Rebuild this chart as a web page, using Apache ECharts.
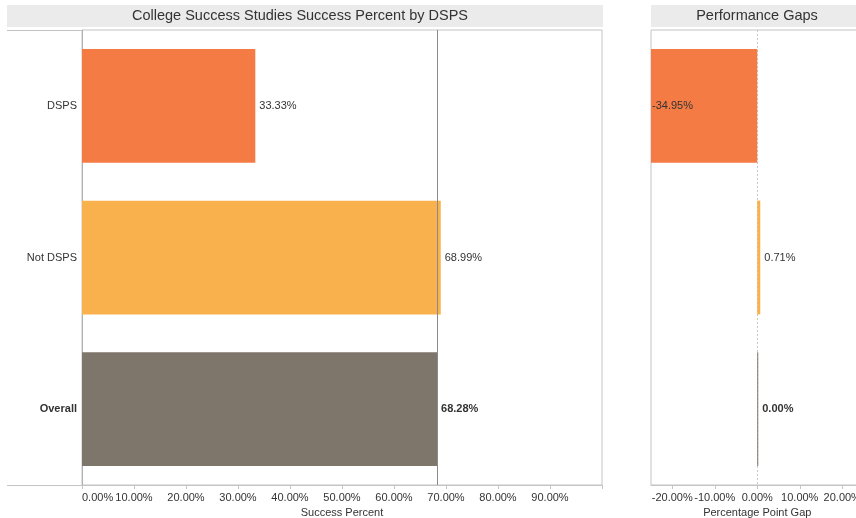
<!DOCTYPE html>
<html>
<head>
<meta charset="utf-8">
<title>College Success Studies Success Percent by DSPS</title>
<script src="https://cdn.jsdelivr.net/npm/echarts@6/dist/echarts.min.js"></script>
<style>
  html, body { margin: 0; padding: 0; background: #ffffff; }
  #chart { width: 856px; height: 518px; }
</style>
</head>
<body>
<div id="chart"></div>
<script>
// Groups shown on the vertical axis
const categories = ['DSPS', 'Not DSPS', 'Overall'];
// Success percent for each group
const successPercent = [33.33, 68.99, 68.28];
// Gap in percentage points versus the overall rate
const gapPoints = [-34.95, 0.71, 0.00];
// Tick values for both value axes
const successTicks = [0, 10, 20, 30, 40, 50, 60, 70, 80, 90, 100];
const gapTicks = [-20, -10, 0, 10, 20];
// Bar colours per group
const barColors = ['#F47B43', '#F9B14D', '#7E756B'];

const FONT = "'Liberation Sans', Arial, sans-serif";
const TEXT = '#333333';
const BORDER = '#c4c4c4';
const pct = v => v.toFixed(2) + '%';

const chart = echarts.init(document.getElementById('chart'), null, { renderer: 'canvas' });

function barItems(values) {
  return values.map((v, i) => ({
    value: v,
    itemStyle: { color: barColors[i] },
    label: categories[i] === 'Overall' ? { fontWeight: 'bold' } : {}
  }));
}

const gapItems = barItems(gapPoints);
// the large negative bar runs past the panel edge, so its label sits inside at the left
gapItems[0].label = { position: 'insideLeft', distance: 1 };

const option = {
  animation: false,
  textStyle: { fontFamily: FONT },
  graphic: [
    { type: 'rect', shape: { x: 7, y: 5, width: 596, height: 22 }, style: { fill: '#ebebeb' }, silent: true },
    { type: 'text', x: 300, y: 16, style: { text: 'College Success Studies Success Percent by DSPS', fill: TEXT, font: '14.5px ' + FONT, align: 'center', verticalAlign: 'middle' } },
    { type: 'rect', shape: { x: 651, y: 5, width: 220, height: 22 }, style: { fill: '#ebebeb' }, silent: true },
    { type: 'text', x: 757, y: 16, style: { text: 'Performance Gaps', fill: TEXT, font: '14.5px ' + FONT, align: 'center', verticalAlign: 'middle' } },
    { type: 'line', shape: { x1: 7, y1: 30.5, x2: 82, y2: 30.5 }, style: { stroke: BORDER, lineWidth: 1 } },
    { type: 'line', shape: { x1: 7, y1: 485.5, x2: 82, y2: 485.5 }, style: { stroke: BORDER, lineWidth: 1 } }
  ],
  grid: [
    { left: 82, top: 30, width: 520, height: 455, show: true, borderColor: BORDER, borderWidth: 1, backgroundColor: 'transparent', outerBoundsMode: 'none', containLabel: false },
    { left: 651, top: 30, width: 212.5, height: 455, show: true, borderColor: BORDER, borderWidth: 1, backgroundColor: 'transparent', outerBoundsMode: 'none', containLabel: false }
  ],
  xAxis: [
    {
      gridIndex: 0, type: 'value', min: 0, max: 100,
      name: 'Success Percent', nameLocation: 'middle', nameGap: 21,
      nameTextStyle: { fontSize: 11, color: TEXT, fontFamily: FONT },
      axisLine: { show: true, lineStyle: { color: BORDER } },
      axisTick: { show: true, length: 4, lineStyle: { color: BORDER }, customValues: successTicks },
      axisLabel: {
        customValues: successTicks,
        fontSize: 11, color: TEXT, fontFamily: FONT, margin: 7,
        alignMinLabel: 'left', hideOverlap: false,
        formatter: v => (v >= 100 ? '' : pct(v))
      },
      splitLine: { show: false }
    },
    {
      gridIndex: 1, type: 'value', min: -25, max: 25,
      name: 'Percentage Point Gap', nameLocation: 'middle', nameGap: 21,
      nameTextStyle: { fontSize: 11, color: TEXT, fontFamily: FONT },
      axisLine: { show: true, lineStyle: { color: BORDER } },
      axisTick: { show: true, length: 4, lineStyle: { color: BORDER }, customValues: gapTicks },
      axisLabel: {
        customValues: gapTicks,
        fontSize: 11, color: TEXT, fontFamily: FONT, margin: 7, hideOverlap: false,
        formatter: v => pct(v)
      },
      splitLine: { show: false }
    }
  ],
  yAxis: [
    {
      gridIndex: 0, type: 'category', data: categories, inverse: true,
      axisLine: { show: true, lineStyle: { color: '#b0b0b0' } },
      axisTick: { show: false },
      axisLabel: {
        fontSize: 11, color: TEXT, fontFamily: FONT, margin: 5,
        formatter: v => (v === 'Overall' ? '{b|' + v + '}' : v),
        rich: { b: { fontWeight: 'bold', fontSize: 11, color: TEXT, fontFamily: FONT } }
      }
    },
    {
      gridIndex: 1, type: 'category', data: categories, inverse: true,
      axisLine: { show: false }, axisTick: { show: false }, axisLabel: { show: false }
    }
  ],
  series: [
    {
      type: 'bar', xAxisIndex: 0, yAxisIndex: 0,
      data: barItems(successPercent),
      barCategoryGap: '25%',
      label: { show: true, position: 'right', distance: 4, fontSize: 11, color: TEXT, fontFamily: FONT, formatter: p => pct(p.value) },
      markLine: {
        silent: true, symbol: ['none', 'none'],
        label: { show: false },
        lineStyle: { color: '#8a8a8a', width: 1, type: 'solid' },
        data: [{ xAxis: successPercent[categories.indexOf('Overall')] }]
      }
    },
    {
      type: 'bar', xAxisIndex: 1, yAxisIndex: 1,
      data: gapItems,
      barCategoryGap: '25%',
      barMinHeight: 1,
      clip: true,
      z: 3,
      label: { show: true, position: 'right', distance: 4, fontSize: 11, color: TEXT, fontFamily: FONT, formatter: p => pct(p.value) },
      markLine: {
        silent: true, symbol: ['none', 'none'],
        z: 1,
        label: { show: false },
        lineStyle: { color: '#c8c8c8', width: 1, type: [2, 2] },
        data: [{ xAxis: 0 }]
      }
    }
  ]
};

chart.setOption(option);
</script>
</body>
</html>
